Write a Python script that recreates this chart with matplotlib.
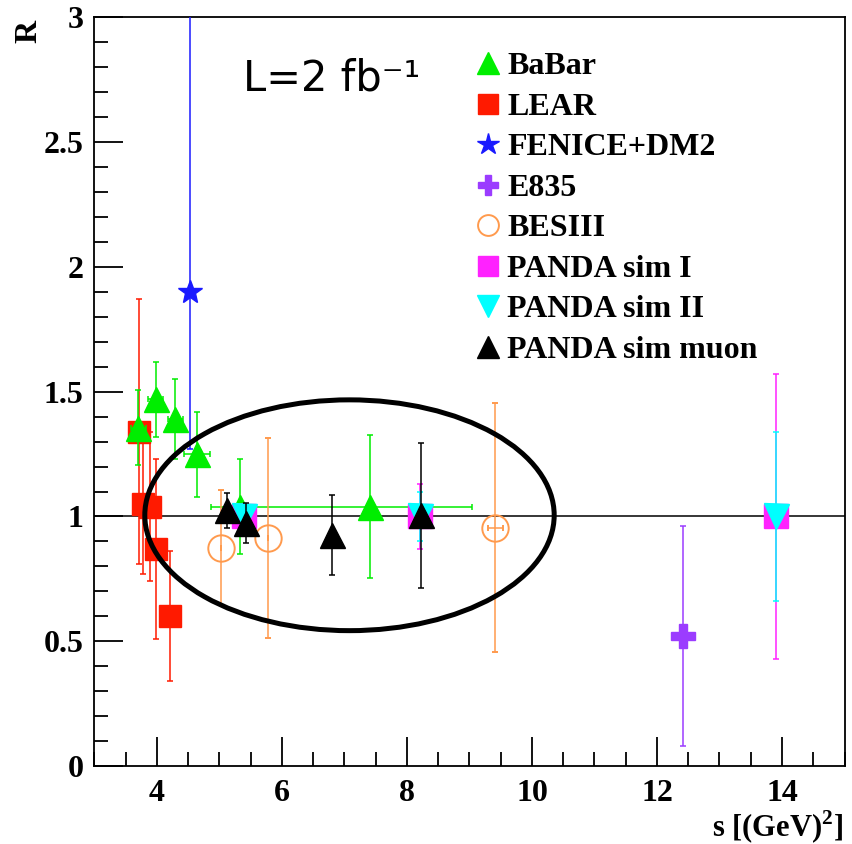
import numpy as np
import matplotlib
matplotlib.use("Agg")
import matplotlib.pyplot as plt
from matplotlib.patches import Ellipse
from matplotlib.ticker import MultipleLocator
from matplotlib.lines import Line2D

# --- data ---
lear_s = [3.71, 3.78, 3.89, 3.98, 4.21]
lear_r = [1.34, 1.05, 1.04, 0.87, 0.60]
lear_e = [0.53, 0.28, 0.30, 0.36, 0.26]

babar_s = [3.70, 3.98, 4.29, 4.64, 5.33, 7.41]
babar_r = [1.355, 1.47, 1.39, 1.25, 1.04, 1.04]
babar_e = [0.15, 0.15, 0.16, 0.17, 0.19, 0.285]
babar_xlo = [0.12, 0.12, 0.12, 0.21, 0.12, 2.54]
babar_xhi = [0.12, 0.12, 0.12, 0.21, 0.12, 1.63]

fenice_s = [4.53]
fenice_r = [1.90]
fenice_elo = [0.63]
fenice_ehi = [1.30]

e835_s = [12.42]
e835_r = [0.52]
e835_e = [0.44]

besiii_s = [5.02, 5.78, 9.41]
besiii_r = [0.875, 0.915, 0.955]
besiii_e = [0.23, 0.40, 0.50]
besiii_xe = [0.0, 0.0, 0.12]

sim1_s = [5.39, 8.21, 13.9]
sim1_r = [1.0, 1.0, 1.0]
sim1_e = [0.05, 0.13, 0.57]

sim2_s = [5.39, 8.21, 13.9]
sim2_r = [1.0, 1.0, 1.0]
sim2_e = [0.04, 0.10, 0.34]

muon_s = [5.12, 5.43, 6.80, 8.22]
muon_r = [1.025, 0.975, 0.925, 1.005]
muon_e = [0.07, 0.08, 0.16, 0.29]

# ellipse around the PANDA region (centre, width, height in data units)
ell_center = (7.08, 1.005)
ell_w, ell_h = 6.55, 0.925

plt.rcParams['font.family'] = ['Liberation Serif', 'DejaVu Serif']
plt.rcParams['font.weight'] = 'bold'

fig = plt.figure(figsize=(8.52, 8.44), dpi=100)
ax = fig.add_axes([0.1109, 0.0924, 0.8803, 0.8869])
ax.set_xlim(3, 15)
ax.set_ylim(0, 3)

ax.axhline(1.0, color='black', lw=1.1, zorder=1)

eb = dict(linestyle='none', elinewidth=1.1, capsize=2.5, capthick=1.1)

ax.errorbar(lear_s, lear_r, yerr=lear_e, marker='s', ms=16.5, color='#ff1a00',
            mec='#ff1a00', zorder=3, **eb)
ax.errorbar(babar_s, babar_r, yerr=babar_e, xerr=[babar_xlo, babar_xhi], marker='^',
            ms=18, color='#00ee00', zorder=4, **eb)
ax.errorbar(fenice_s, fenice_r, yerr=[fenice_elo, fenice_ehi], marker='*', ms=18,
            color='#1a1aff', zorder=4, **eb)
ax.errorbar(e835_s, e835_r, yerr=e835_e, marker='P', ms=17, color='#9b3cff',
            zorder=4, **eb)
ax.errorbar(besiii_s, besiii_r, yerr=besiii_e, xerr=besiii_xe, marker='o', ms=19,
            mfc='none', mec='#ff9a4d', mew=1.4, color='#ff9a4d', zorder=4, **eb)
ax.errorbar(sim1_s, sim1_r, yerr=sim1_e, marker='s', ms=17, color='#ff22ff',
            zorder=5, **eb)
ax.errorbar(sim2_s, sim2_r, yerr=sim2_e, marker='v', ms=18, color='#00ffff',
            zorder=6, **eb)
ax.errorbar(muon_s, muon_r, yerr=muon_e, marker='^', ms=18, color='black',
            zorder=7, **eb)

ax.add_patch(Ellipse(ell_center, ell_w, ell_h, fill=False, ec='black', lw=3.6, zorder=8))

ax.text(0.198, 0.919, 'L=2 fb\u207b\u00b9', transform=ax.transAxes,
        fontsize=30, fontweight='normal', family=['DejaVu Sans'], ha='left', va='center')

# legend
handles = [
    Line2D([], [], ls='none', marker='^', ms=16, color='#00ee00'),
    Line2D([], [], ls='none', marker='s', ms=14, color='#ff1a00'),
    Line2D([], [], ls='none', marker='*', ms=16, color='#1a1aff'),
    Line2D([], [], ls='none', marker='P', ms=15, color='#9b3cff'),
    Line2D([], [], ls='none', marker='o', ms=15, mfc='none', mec='#ff9a4d', mew=1.4),
    Line2D([], [], ls='none', marker='s', ms=14, color='#ff22ff'),
    Line2D([], [], ls='none', marker='v', ms=16, color='#00ffff'),
    Line2D([], [], ls='none', marker='^', ms=16, color='black'),
]
labels = ['BaBar', 'LEAR', 'FENICE+DM2', 'E835', 'BESIII', 'PANDA sim I',
          'PANDA sim II', 'PANDA sim muon']
ax.legend(handles, labels, loc='upper left', bbox_to_anchor=(0.478, 0.984), frameon=False,
          prop={'family': 'Liberation Serif', 'weight': 'bold', 'size': 23},
          handlelength=0.8, handletextpad=0.2, labelspacing=0.35, borderpad=0.2)

# ROOT style axes
ax.xaxis.set_major_locator(MultipleLocator(2))
ax.xaxis.set_minor_locator(MultipleLocator(0.5))
ax.yaxis.set_major_locator(MultipleLocator(0.5))
ax.yaxis.set_minor_locator(MultipleLocator(0.1))
ax.tick_params(which='both', direction='in', top=False, right=False, width=1.3)
ax.tick_params(which='major', length=21, labelsize=23)
ax.tick_params(axis='x', which='major', pad=9)
ax.tick_params(axis='y', which='major', pad=8)
ax.tick_params(which='minor', length=10)
ax.set_yticks([0, 0.5, 1, 1.5, 2, 2.5, 3])
ax.set_yticklabels(['0', '0.5', '1', '1.5', '2', '2.5', '3'])
for lab in ax.get_xticklabels() + ax.get_yticklabels():
    lab.set_fontweight('bold')
for sp in ax.spines.values():
    sp.set_linewidth(1.3)

fig.text(843 / 852, 1 - 827 / 844, r's [(GeV)$^{\mathregular{2}}$]', fontsize=22,
         fontweight='bold', ha='right', va='center')
fig.text(29 / 852, 1 - 31 / 844, 'R', fontsize=23, fontweight='bold', rotation=90,
         ha='center', va='center')

plt.savefig('out.png', dpi=100)
